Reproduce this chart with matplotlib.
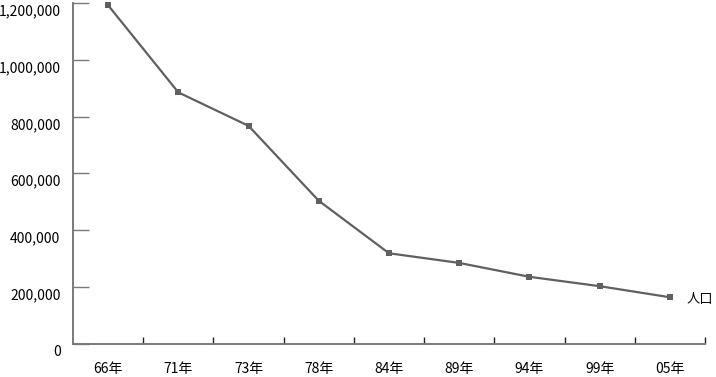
import matplotlib
matplotlib.use("Agg")
import matplotlib.pyplot as plt
import matplotlib.transforms as mtransforms
from matplotlib.ticker import FuncFormatter

plt.rcParams['font.family'] = ['Noto Sans CJK JP', 'DejaVu Sans']

categories = ["66年", "71年", "73年", "78年", "84年", "89年", "94年", "99年", "05年"]
population = [1192000, 885000, 767000, 503000, 318000, 284000, 235000, 202000, 163000]
series_name = "人口"
y_ticks = [0, 200000, 400000, 600000, 800000, 1000000, 1200000]

W, H = 716, 377
fig = plt.figure(figsize=(W / 100, H / 100), dpi=100)
left, right, bottom, top = 73, 705, 343.5, 3
ax = fig.add_axes([left / W, (H - bottom) / H, (right - left) / W, (bottom - top) / H])

line_color = "#606060"
axis_color = "#7a7a7a"

x = list(range(len(categories)))
ax.plot(x, population, color=line_color, lw=1.6, marker="s", markersize=4.5,
        markeredgewidth=0, clip_on=False, zorder=3)

ax.set_xlim(-0.5, len(categories) - 0.5)
ax.set_ylim(0, 1200000)

for s in ["top", "right"]:
    ax.spines[s].set_visible(False)
for s in ["left", "bottom"]:
    ax.spines[s].set_color(axis_color)
    ax.spines[s].set_linewidth(1.4)

ax.set_yticks(y_ticks)
ax.yaxis.set_major_formatter(FuncFormatter(lambda v, p: f"{int(v):,}"))
ax.tick_params(axis="y", direction="in", length=11.5, width=1.0, color=axis_color,
               pad=9, labelsize=10, labelcolor="#000000")
offset = mtransforms.ScaledTranslation(0, -7 / 100, fig.dpi_scale_trans)
for lab in ax.get_yticklabels():
    lab.set_transform(lab.get_transform() + offset)

ax.set_xticks(x)
ax.set_xticklabels(categories)
ax.tick_params(axis="x", which="major", length=0, pad=13, labelsize=10, labelcolor="#000000")
ax.set_xticks([i + 0.5 for i in x], minor=True)
ax.tick_params(axis="x", which="minor", direction="in", length=5, width=1.0, color="#222222")

ax.annotate(series_name, xy=(x[-1], population[-1]), xytext=(17, -2),
            textcoords="offset pixels", va="center", ha="left", fontsize=9.5)

fig.savefig("out.png", dpi=100)
